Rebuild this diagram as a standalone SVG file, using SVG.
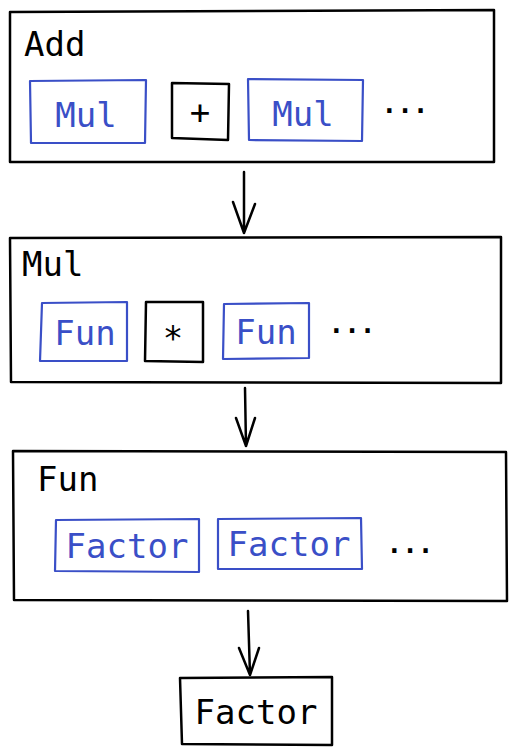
<svg xmlns="http://www.w3.org/2000/svg" width="515" height="755" viewBox="0 0 515 755">
<style>
.box{fill:none;stroke:#000;stroke-width:2.5;stroke-linejoin:round;stroke-linecap:round}
.blue{fill:none;stroke:#3a4fc7;stroke-width:2.2;stroke-linejoin:round;stroke-linecap:round}
.t{font-family:"DejaVu Sans Mono","Liberation Mono",monospace;font-size:34px;fill:#000}
.tb{font-family:"DejaVu Sans Mono","Liberation Mono",monospace;font-size:34px;fill:#3a4fc7}
.dots{font-family:"DejaVu Sans Mono","Liberation Mono",monospace;font-size:26px;font-weight:bold;fill:#000}
.arr{fill:none;stroke:#000;stroke-width:2.5;stroke-linecap:round;stroke-linejoin:round}
</style>
<rect width="515" height="755" fill="#fff"/>
<g id="add">
<path class="box" d="M10 12 L494 10 L494 162 L10 162 Z"/>
<text class="t" x="24" y="56">Add</text>
<g id="add-mul1"><path class="blue" d="M30 81 L146 80 L145 143 L31 143 Z"/><text class="tb" x="86" y="127" text-anchor="middle">Mul</text></g>
<g id="add-plus"><path class="box" d="M172 83 L229 84 L228 140 L172 138 Z"/><text class="t" x="200" y="124" text-anchor="middle">+</text></g>
<g id="add-mul2"><path class="blue" d="M248 79 L363 80 L362 141 L249 140 Z"/><text class="tb" x="303" y="126" text-anchor="middle">Mul</text></g>
<text class="dots" x="405" y="113" text-anchor="middle">...</text>
</g>
<g id="mul">
<path class="box" d="M10 238 L501 237 L501 383 L11 382 Z"/>
<text class="t" x="22" y="276">Mul</text>
<g id="mul-fun1"><path class="blue" d="M42 303 L127 302 L127 361 L40 361 Z"/><text class="tb" x="85" y="345" text-anchor="middle">Fun</text></g>
<g id="mul-star"><path class="box" d="M146 302 L203 302 L203 362 L145 361 Z"/><text class="t" x="173" y="350" text-anchor="middle">*</text></g>
<g id="mul-fun2"><path class="blue" d="M224 304 L309 303 L309 358 L223 359 Z"/><text class="tb" x="266" y="344" text-anchor="middle">Fun</text></g>
<text class="dots" x="352" y="333" text-anchor="middle">...</text>
</g>
<g id="fun">
<path class="box" d="M13 451 L506 452 L507 601 L14 600 Z"/>
<text class="t" x="37" y="491">Fun</text>
<g id="fun-factor1"><path class="blue" d="M56 520 L199 519 L199 572 L55 571 Z"/><text class="tb" x="127" y="558" text-anchor="middle">Factor</text></g>
<g id="fun-factor2"><path class="blue" d="M218 519 L361 518 L362 569 L218 569 Z"/><text class="tb" x="289" y="556" text-anchor="middle">Factor</text></g>
<text class="dots" x="410" y="553" text-anchor="middle">...</text>
</g>
<g id="factor">
<path class="box" d="M180 678 L332 677 L332 745 L182 744 Z"/>
<text class="t" x="256" y="724" text-anchor="middle">Factor</text>
</g>
<g id="connectors">
<path class="arr" d="M244 172 L244 233 M233 202 L244 233 L255 204"/>
<path class="arr" d="M245 388 L246 446 M236 418 L246 446 L255 418"/>
<path class="arr" d="M248 611 L250 675 M239 648 L250 675 L259 648"/>
</g>
</svg>
